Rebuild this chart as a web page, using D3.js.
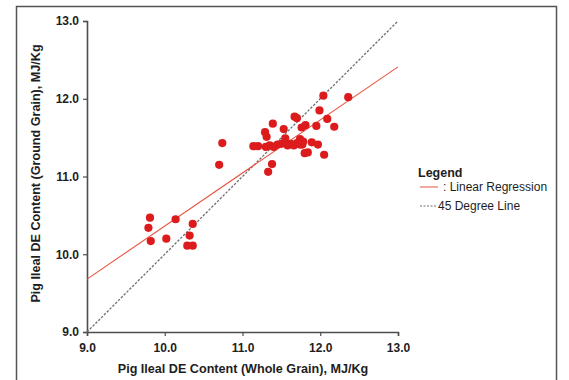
<!DOCTYPE html>
<html>
<head>
<meta charset="utf-8">
<script src="https://cdn.jsdelivr.net/npm/d3@7"></script>
<style>
  html, body { margin: 0; padding: 0; background: #fff; }
  svg { display: block; font-family: "Liberation Sans", Arial, sans-serif; }
</style>
</head>
<body>
<div id="chart"></div>
<script>
// whole-grain vs ground-grain ileal DE, MJ/Kg
const wholeGrain = [
  9.81, 9.79, 9.82, 10.14, 10.02, 10.36, 10.32, 10.29, 10.36,
  10.74, 10.70,
  11.14, 11.20, 11.29, 11.31, 11.39, 11.53, 11.38, 11.33,
  11.30, 11.35, 11.40, 11.45, 11.50, 11.55, 11.58, 11.62, 11.66, 11.70, 11.74,
  11.67, 11.70, 11.76, 11.81, 11.74, 11.78, 11.77, 11.89, 11.97, 11.80, 11.84, 12.05,
  11.95, 11.99, 12.09, 12.18, 12.04, 12.36,
];
const groundGrain = [
  10.47, 10.34, 10.17, 10.45, 10.20, 10.39, 10.24, 10.11, 10.11,
  11.43, 11.15,
  11.39, 11.39, 11.57, 11.51, 11.68, 11.61, 11.16, 11.06,
  11.38, 11.40, 11.38, 11.41, 11.42, 11.49, 11.40, 11.42, 11.40, 11.43, 11.41,
  11.77, 11.75, 11.63, 11.66, 11.48, 11.45, 11.41, 11.44, 11.41, 11.30, 11.31, 11.28,
  11.65, 11.85, 11.74, 11.64, 12.04, 12.02,
];
const ticks = [9, 10, 11, 12, 13];
// fitted line (intercept at 9.0 and end at 13.0), and the 1:1 line
const regressionEnds = [[9.0, 9.68], [13.0, 12.41]];
const identityEnds = [[9.0, 9.0], [13.0, 13.0]];
const legendItems = [": Linear Regression", "45 Degree Line"];

const COLOR = {
  point: "#dc1c1c",
  regression: "#e8533f",
  identity: "#6f6f6f",
  axis: "#4d4d4d",
  text: "#1e1e1e",
  frame: "#555",
};

const width = 569;
const height = 380;

const svg = d3.select("#chart")
  .append("svg")
  .attr("width", width)
  .attr("height", height);

// outer frame (bottom edge runs off the picture)
svg.append("rect")
  .attr("x", 16.5).attr("y", 6.5)
  .attr("width", 540).attr("height", 400)
  .attr("fill", "none")
  .attr("stroke", COLOR.frame)
  .attr("stroke-width", 1.5);

const x = d3.scaleLinear().domain([9, 13]).range([87, 398]);
const y = d3.scaleLinear().domain([9, 13]).range([332, 21]);

// ---- axes ----
const xAxis = svg.append("g")
  .attr("transform", `translate(0,${y(9)})`)
  .call(d3.axisBottom(x).tickValues(ticks).tickFormat(d3.format(".1f")).tickSizeOuter(0).tickSize(4));
const yAxis = svg.append("g")
  .attr("transform", `translate(${x(9)},0)`)
  .call(d3.axisLeft(y).tickValues(ticks).tickFormat(d3.format(".1f")).tickSizeOuter(0).tickSize(4));

[xAxis, yAxis].forEach((ax) => {
  ax.select(".domain").attr("stroke", COLOR.axis).attr("stroke-width", 1.6);
  ax.selectAll(".tick line").attr("stroke", COLOR.axis).attr("stroke-width", 1.2);
  ax.selectAll(".tick text")
    .attr("fill", COLOR.text)
    .attr("font-size", 12)
    .attr("font-weight", 700)
    .attr("font-family", "'Liberation Sans', Arial, sans-serif");
});
xAxis.selectAll(".tick text").attr("dy", "1.1em");
yAxis.selectAll(".tick text").attr("x", -8);

svg.append("text")
  .attr("x", 243).attr("y", 373)
  .attr("text-anchor", "middle")
  .attr("font-size", 12.6)
  .attr("font-weight", 700)
  .attr("fill", COLOR.text)
  .text("Pig Ileal DE Content (Whole Grain), MJ/Kg");

svg.append("text")
  .attr("transform", `translate(40,${(y(9) + y(13)) / 2 - 3}) rotate(-90)`)
  .attr("text-anchor", "middle")
  .attr("font-size", 12.6)
  .attr("font-weight", 700)
  .attr("fill", COLOR.text)
  .text("Pig Ileal DE Content (Ground Grain), MJ/Kg");

// ---- reference lines ----
const line = d3.line().x((d) => x(d[0])).y((d) => y(d[1]));

svg.append("path")
  .attr("d", line(identityEnds))
  .attr("fill", "none")
  .attr("stroke", COLOR.identity)
  .attr("stroke-width", 1.3)
  .attr("stroke-dasharray", "2.5,1.5");

svg.append("path")
  .attr("d", line(regressionEnds))
  .attr("fill", "none")
  .attr("stroke", COLOR.regression)
  .attr("stroke-width", 1.1);

// ---- points ----
svg.append("g")
  .selectAll("circle")
  .data(d3.zip(wholeGrain, groundGrain))
  .join("circle")
  .attr("cx", (d) => x(d[0]))
  .attr("cy", (d) => y(d[1]))
  .attr("r", 4.1)
  .attr("fill", COLOR.point);

// ---- legend ----
const legend = svg.append("g").attr("transform", "translate(418,0)");
legend.append("text")
  .attr("x", 0).attr("y", 177)
  .attr("font-size", 12.5)
  .attr("font-weight", 700)
  .attr("fill", COLOR.text)
  .text("Legend");

const rowY = [187, 206];
legend.append("line")
  .attr("x1", 2).attr("x2", 20)
  .attr("y1", rowY[0]).attr("y2", rowY[0])
  .attr("stroke", COLOR.regression)
  .attr("stroke-width", 1);
legend.append("line")
  .attr("x1", 2).attr("x2", 18)
  .attr("y1", rowY[1]).attr("y2", rowY[1])
  .attr("stroke", COLOR.identity)
  .attr("stroke-width", 1)
  .attr("stroke-dasharray", "2,1.5");

legend.selectAll("text.item")
  .data(legendItems)
  .join("text")
  .attr("class", "item")
  .attr("x", (d, i) => (i === 0 ? 25 : 20))
  .attr("y", (d, i) => rowY[i] + 4)
  .attr("font-size", 12)
  .attr("fill", COLOR.text)
  .text((d) => d);
</script>
</body>
</html>
